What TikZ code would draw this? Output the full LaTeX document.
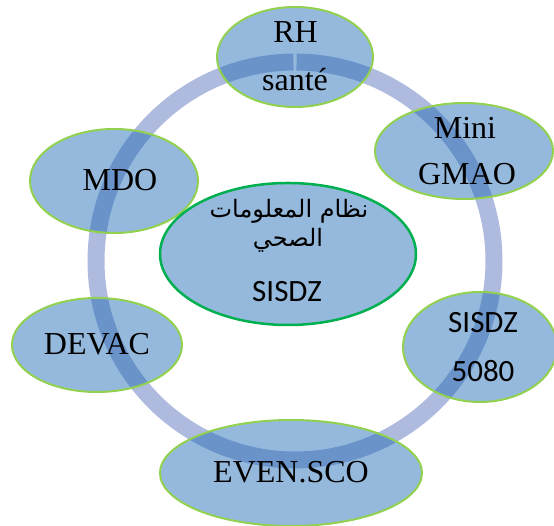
\documentclass[tikz,border=0pt]{standalone}
\usepackage{fontspec}
\setmainfont{Liberation Serif}
\newfontfamily\calibri{Carlito}
\newfontfamily\arabicfont[Script=Arabic]{DejaVu Sans}
\TeXXeTstate=1
\usetikzlibrary{shapes.geometric}
\definecolor{ringc}{RGB}{175,186,223}
\definecolor{ellc}{RGB}{25,103,179}
\definecolor{lgreen}{RGB}{146,208,80}
\definecolor{dgreen}{RGB}{0,176,80}
\begin{document}
\begin{tikzpicture}[x=1pt,y=1pt,
  bubble/.style={ellipse, draw=lgreen, line width=2pt, fill=ellc, fill opacity=0.46, draw opacity=1, inner sep=0pt},
  serif/.style={anchor=base, inner sep=0pt, font=\fontsize{32}{32}\selectfont},
  sans/.style={anchor=base, inner sep=0pt, font=\calibri\fontsize{31}{31}\selectfont},
  arab/.style={anchor=base, inner sep=0pt, font=\arabicfont\fontsize{24}{24}\selectfont},
  ringline/.style={draw=ringc, line width=17pt}]
\useasboundingbox (0,0) rectangle (554,526);
\coordinate (o) at (295,265);
\draw[ringline] (o) ++(90.45:199) arc[start angle=90.45, end angle=449.55, radius=199];
\node[bubble, minimum width=156pt, minimum height=100pt] (rh) at (295,469) {};
\node[bubble, minimum width=178pt, minimum height=96pt] (gmao) at (464,375) {};
\node[bubble, minimum width=168pt, minimum height=104pt] (mdo) at (114,345) {};
\node[bubble, minimum width=170pt, minimum height=94pt] (devac) at (97,181) {};
\node[bubble, minimum width=154pt, minimum height=110pt] (s5080) at (480,179) {};
\node[bubble, minimum width=262pt, minimum height=106pt] (even) at (291,53) {};
\node[bubble, draw=dgreen, line width=2.5pt, minimum width=256pt, minimum height=142pt] (center) at (288,272) {};
\node[serif] (trh) at (295.5,483) {RH};
\node[serif] (tsante) at (295,435) {santé};
\node[serif] (tmdo) at (120,335) {MDO};
\node[serif] (tmini) at (465,387) {Mini};
\node[serif] (tgmao) at (467,341) {GMAO};
\node[serif] (tdevac) at (97,171) {DEVAC};
\node[sans] (tsisdz) at (483,193) {SISDZ};
\node[sans] (t5080) at (483,144) {5080};
\node[serif] (teven) at (291,43) {EVEN.SCO};
\node[arab] (tar1) at (289,308) {\beginR نظام المعلومات\endR};
\node[arab] (tar2) at (288,279) {\beginR الصحي\endR};
\node[sans] (tsis) at (287,224) {SISDZ};
\end{tikzpicture}
\end{document}
